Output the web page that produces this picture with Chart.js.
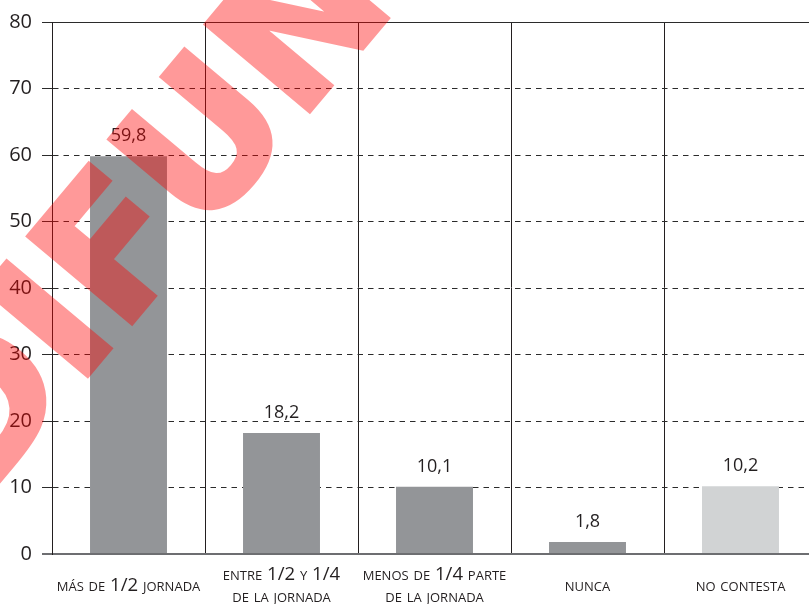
<!DOCTYPE html>
<html><head><meta charset="utf-8">
<script src="https://cdn.jsdelivr.net/npm/chart.js@4/dist/chart.umd.min.js"></script>
<style>
html,body{margin:0;padding:0;background:#fff;overflow:hidden;width:809px;height:604px}
#wrap{width:820px;height:604px;position:relative}
</style></head><body>
<div id="wrap"><canvas id="c"></canvas></div>
<script>
const categories = [
  'más de 1/2 jornada',
  ['entre 1/2 y 1/4', 'de la jornada'],
  ['menos de 1/4 parte', 'de la jornada'],
  'nunca',
  'no contesta'
];
const values = [59.8, 18.2, 10.1, 1.8, 10.2];
const barColors = ['#939598', '#939598', '#939598', '#939598', '#d1d3d4'];
const yMin = 0, yMax = 80, yStep = 10;
const watermarkText = 'DIFUN';

const valueLabels = {
  id: 'valueLabels',
  afterDatasetsDraw(chart) {
    const ctx = chart.ctx;
    const meta = chart.getDatasetMeta(0);
    ctx.save();
    ctx.font = "18px 'Open Sans'";
    ctx.fillStyle = '#231f20';
    ctx.textAlign = 'center';
    ctx.textBaseline = 'middle';
    meta.data.forEach((bar, i) => {
      ctx.fillText(values[i].toFixed(1).replace('.', ','), bar.x, bar.y - 20);
    });
    ctx.restore();
  }
};

const watermark = {
  id: 'watermark',
  afterDraw(chart) {
    const ctx = chart.ctx;
    const off = document.createElement('canvas');
    off.width = chart.canvas.width;
    off.height = chart.canvas.height;
    const o = off.getContext('2d');
    o.translate(-22, 506);
    o.rotate(-50 * Math.PI / 180);
    o.font = "bold 185px 'DejaVu Sans'";
    o.fillStyle = '#ff0000';
    o.strokeStyle = '#ff0000';
    o.lineWidth = 5;
    o.lineJoin = 'miter';
    o.textBaseline = 'alphabetic';
    o.fillText(watermarkText, 0, 0);
    o.strokeText(watermarkText, 0, 0);
    ctx.save();
    ctx.setTransform(1, 0, 0, 1, 0, 0);
    ctx.globalAlpha = 0.4;
    ctx.drawImage(off, 0, 0);
    ctx.restore();
  }
};

new Chart(document.getElementById('c'), {
  type: 'bar',
  data: {
    labels: categories,
    datasets: [{
      data: values,
      backgroundColor: barColors,
      borderWidth: 0,
      categoryPercentage: 1,
      barPercentage: 0.503
    }]
  },
  options: {
    responsive: true,
    maintainAspectRatio: false,
    animation: false,
    layout: { padding: { top: 8, right: 3, left: 0, bottom: 0 } },
    plugins: { legend: { display: false }, tooltip: { enabled: false } },
    scales: {
      x: {
        grid: { offset: true, color: '#231f20', lineWidth: 1, drawTicks: false },
        border: { display: true, color: '#6d6e71', width: 2, dash: [] },
        ticks: {
          font: { family: "'Open Sans'", size: 18.6, weight: 'small-caps', lineHeight: 1.15 },
          color: '#231f20',
          padding: 21,
          crossAlign: 'center',
          maxRotation: 0,
          autoSkip: false
        },
        afterFit(s) { s.height = 50; }
      },
      y: {
        min: yMin, max: yMax,
        ticks: { stepSize: yStep, font: { family: "'Open Sans'", size: 20 }, color: '#231f20', padding: 10 },
        grid: {
          color: c => (c.tick && c.tick.value === 0) ? '#6d6e71' : '#2b2b2b',
          tickColor: c => (c.tick && c.tick.value === 0) ? '#6d6e71' : '#2b2b2b',
          lineWidth: c => (c.tick && c.tick.value === 0) ? 2 : 1,
          tickWidth: c => (c.tick && c.tick.value === 0) ? 2 : 1,
          tickLength: 10
        },
        border: {
          display: true, color: '#231f20', width: 1,
          dash: c => (c.tick && (c.tick.value === 80 || c.tick.value === 0)) ? [] : [5.5, 5]
        },
        afterFit(s) { s.width = 52; }
      }
    }
  },
  plugins: [valueLabels, watermark]
});
</script>
</body></html>
